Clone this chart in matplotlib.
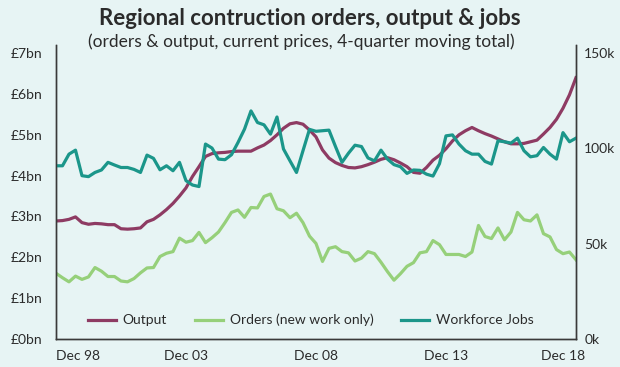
import numpy as np
import matplotlib.pyplot as plt
import matplotlib.transforms as mtransforms

plt.rcParams['font.family'] = ['Lato', 'DejaVu Sans']

# quarterly, Dec 98 .. Dec 18
quarters = np.arange(81)
tick_pos = [0, 20, 40, 60, 80]
tick_labels = ["Dec 98", "Dec 03", "Dec 08", "Dec 13", "Dec 18"]

# £bn, 4-quarter moving total
output = [2.89, 2.90, 2.93, 2.99, 2.85, 2.81, 2.83, 2.82, 2.80, 2.80,
          2.70, 2.69, 2.70, 2.72, 2.87, 2.93, 3.04, 3.17, 3.32, 3.50,
          3.70, 3.98, 4.22, 4.47, 4.54, 4.56, 4.57, 4.59, 4.60, 4.60,
          4.60, 4.68, 4.75, 4.86, 5.00, 5.16, 5.27, 5.30, 5.26, 5.12,
          4.95, 4.63, 4.43, 4.32, 4.25, 4.20, 4.19, 4.22, 4.27, 4.33,
          4.40, 4.44, 4.39, 4.31, 4.22, 4.08, 4.06, 4.20, 4.38, 4.50,
          4.66, 4.85, 5.00, 5.10, 5.18, 5.10, 5.03, 4.97, 4.90, 4.83,
          4.78, 4.78, 4.79, 4.83, 4.87, 5.02, 5.18, 5.38, 5.65, 5.98,
          6.40]

orders = [1.61, 1.50, 1.40, 1.54, 1.46, 1.52, 1.75, 1.66, 1.53, 1.53,
          1.42, 1.40, 1.48, 1.62, 1.74, 1.75, 2.02, 2.10, 2.14, 2.47,
          2.37, 2.41, 2.61, 2.36, 2.48, 2.62, 2.85, 3.10, 3.16, 2.98,
          3.22, 3.21, 3.49, 3.55, 3.19, 3.14, 2.97, 3.08, 2.85, 2.52,
          2.34, 1.90, 2.22, 2.26, 2.14, 2.11, 1.91, 1.98, 2.14, 2.09,
          1.88, 1.65, 1.44, 1.60, 1.78, 1.87, 2.11, 2.14, 2.41, 2.31,
          2.07, 2.07, 2.07, 2.02, 2.13, 2.78, 2.51, 2.46, 2.72, 2.43,
          2.62, 3.10, 2.92, 2.89, 3.04, 2.58, 2.50, 2.19, 2.09, 2.13,
          1.94]

# thousands
jobs = [90.9, 90.9, 97.0, 99.1, 85.7, 85.2, 87.4, 88.7, 92.7, 91.3,
        90.0, 90.0, 89.0, 87.4, 96.5, 94.8, 88.8, 90.9, 88.3, 92.7,
        83.1, 80.8, 80.0, 102.3, 100.2, 94.4, 94.1, 96.7, 103.1, 110.1,
        119.7, 113.6, 112.4, 107.5, 116.5, 99.7, 93.5, 87.4, 98.8, 110.0,
        109.0, 109.3, 109.6, 101.0, 92.7, 97.5, 101.7, 101.0, 95.0, 93.5,
        99.1, 94.4, 91.5, 90.4, 86.9, 88.7, 88.5, 86.5, 85.5, 92.0,
        106.6, 107.1, 102.3, 98.8, 97.0, 97.0, 93.2, 91.8, 104.0, 103.5,
        102.8, 105.4, 98.8, 95.6, 96.2, 100.5, 97.0, 94.4, 108.3, 103.5,
        105.4]

bg = '#e7f4f4'
txt = '#2b2b2b'
c_out = '#8e3b63'
c_ord = '#96d07a'
c_job = '#1b968a'

fig = plt.figure(figsize=(6.2, 3.67), dpi=100, facecolor=bg)
ax = fig.add_axes([0.0903, 0.0763, 0.8387, 0.8011], facecolor=bg)
ax2 = ax.twinx()

l1, = ax.plot(quarters, output, color=c_out, lw=2.3, label="Output")
l2, = ax.plot(quarters, orders, color=c_ord, lw=2.3, label="Orders (new work only)")
l3, = ax2.plot(quarters, jobs, color=c_job, lw=2.3, label="Workforce Jobs")

ax.set_xlim(0, 80)
ax.set_ylim(0, 7.2)
ax2.set_ylim(0, 7.2 / 7 * 150)

ax.set_yticks(range(8))
ax.set_yticklabels(["£%dbn" % v for v in range(8)])
ax2.set_yticks([0, 50, 100, 150])
ax2.set_yticklabels(["0k", "50k", "100k", "150k"])
ax.set_xticks(tick_pos)
ax.set_xticklabels(tick_labels)

for a in (ax, ax2):
    a.tick_params(length=0, labelsize=10, colors=txt)
    a.spines['top'].set_visible(False)
    for s in ('left', 'right', 'bottom'):
        a.spines[s].set_color('#3a3a3a')
        a.spines[s].set_linewidth(1.0)
ax.tick_params(axis='y', pad=10)
ax2.tick_params(axis='y', pad=6)
ax.tick_params(axis='x', pad=8)

xl = ax.get_xticklabels()
xl[0].set_ha('left')
xl[-1].set_transform(xl[-1].get_transform() +
                     mtransforms.ScaledTranslation(-13 / 100, 0, fig.dpi_scale_trans))

leg = ax.legend(handles=[l1, l2, l3], loc='lower center', bbox_to_anchor=(0.49, 0.0),
                ncol=3, frameon=False, fontsize=10, handlelength=2.0,
                columnspacing=2.0, handletextpad=0.5, labelcolor=txt)

fig.text(0.5, 0.95, "Regional contruction orders, output & jobs", ha='center', va='center',
         fontsize=16, fontweight='bold', color=txt)
fig.text(0.486, 0.885, "(orders & output, current prices, 4-quarter moving total)", ha='center',
         va='center', fontsize=12.5, color=txt)

fig.savefig('out.png', dpi=100, facecolor=bg)
